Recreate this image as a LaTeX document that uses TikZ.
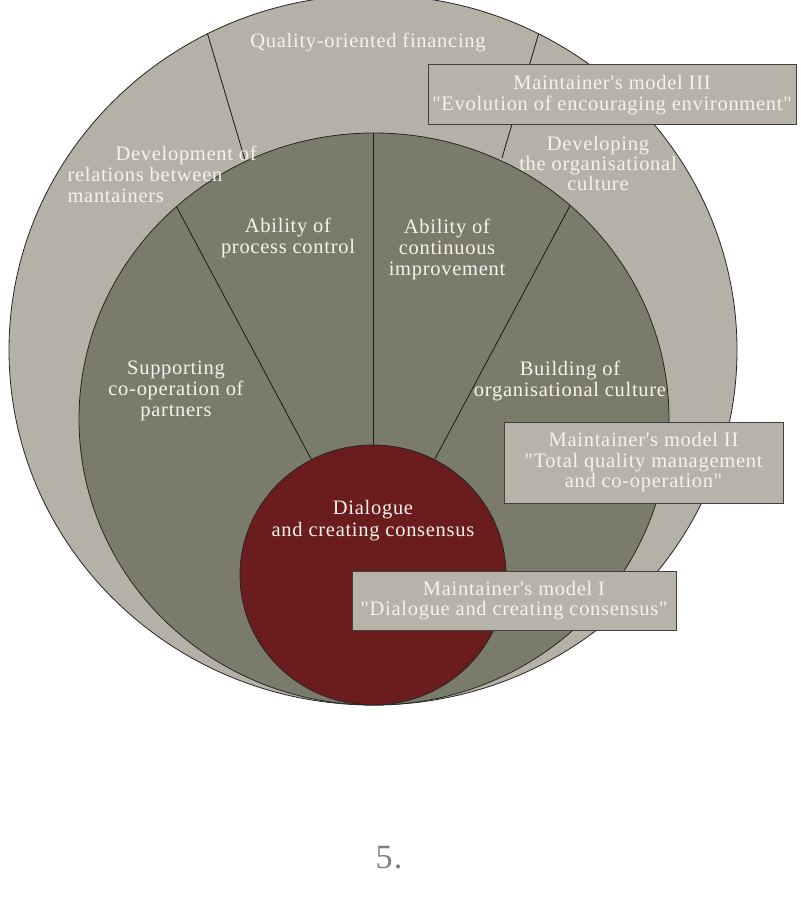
\documentclass[tikz,border=0pt]{standalone}
\usepackage{fontspec}
\setmainfont[LetterSpace=3.5, Ligatures=TeXOff]{Liberation Serif}
\definecolor{ringouter}{HTML}{B6B1A7}
\definecolor{ringmiddle}{HTML}{7B7B6B}
\definecolor{coreRed}{HTML}{6B1C1C}
\definecolor{boxfill}{HTML}{B8B3A9}
\definecolor{labelwhite}{HTML}{F6F3EC}
\begin{document}
\begin{tikzpicture}[x=1pt, y=-1pt,
    rim/.style={draw=black!85, line width=0.8pt},
    part/.style={draw=black!90, line width=0.8pt},
    lbl/.style={text=labelwhite, align=center, font=\fontsize{20.5}{21}\selectfont},
    modelbox/.style={draw=black!75, line width=1pt, fill=boxfill, inner sep=0pt,
        text=labelwhite, align=center, font=\fontsize{20.5}{20.5}\selectfont}]
        \useasboundingbox (0,0) rectangle (800,909);

        % outer ring
        \filldraw[rim, fill=ringouter] (373,350) ellipse (364 and 355);
        \begin{scope}
            \clip (373,350) ellipse (364 and 355);
            \draw[part] (245,160) -- (196,-5);
            \draw[part] (502,158) -- (550,-5);
        \end{scope}

        % middle ring
        \filldraw[rim, fill=ringmiddle] (374,419) ellipse (295 and 286);
        \coordinate (hub) at (373,575);
        \begin{scope}
            \clip (374,419) ellipse (295 and 286);
            \draw[part] (hub) -- (373,100);
            \draw[part] (hub) -- (150,157);
            \draw[part] (hub) -- (596,157);
        \end{scope}

        % core
        \filldraw[rim, fill=coreRed] (373,575) ellipse (133 and 130);

        \node[lbl] (fin) at (368,42) {Quality-oriented financing};
        \node[lbl, align=left, anchor=west] (rel) at (64,174)
            {\hspace*{48pt}Development of\\relations between\\mantainers};
        \node[lbl, font=\fontsize{20.5}{20}\selectfont] (orgcult) at (598,163)
            {Developing\\the organisational\\culture};

        \node[lbl] (proc) at (288,238) {Ability of\\process control};
        \node[lbl] (impr) at (447,249) {Ability of\\continuous\\improvement};
        \node[lbl] (coop) at (176,391) {Supporting\\co-operation of\\partners};
        \node[lbl] (build) at (570,381) {Building of\\organisational culture};
        \node[lbl, font=\fontsize{20.5}{22}\selectfont] (dial) at (373,521)
            {Dialogue\\and creating consensus};

        \node[modelbox, minimum width=368pt, minimum height=60pt] (modelIII) at (612,95)
            {Maintainer's model III\\"Evolution of encouraging environment"};
        \node[modelbox, minimum width=279pt, minimum height=81pt] (modelII) at (643.5,462.5)
            {Maintainer's model II\\"Total quality management\\and co-operation"};
        \node[modelbox, minimum width=324pt, minimum height=59pt] (modelI) at (514,600.5)
            {Maintainer's model I\\"Dialogue and creating consensus"};

        \node[text=black!50, font=\fontsize{34}{36}\selectfont] (pagenum) at (389,858) {5.};
    \end{tikzpicture}
\end{document}
